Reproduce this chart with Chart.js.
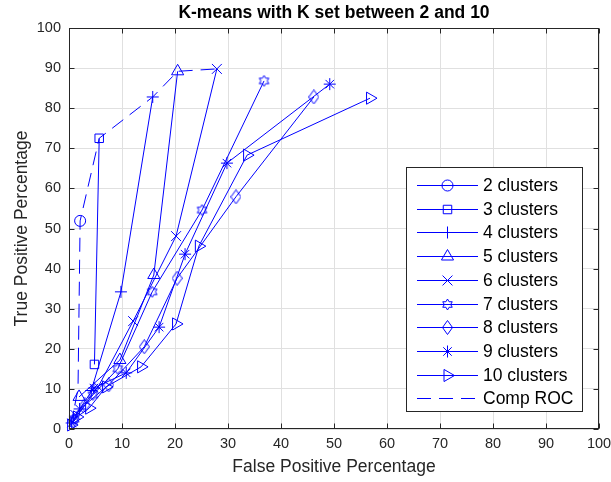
<!DOCTYPE html>
<html>
<head>
<meta charset="utf-8">
<script src="https://cdn.jsdelivr.net/npm/chart.js@4.4.0/dist/chart.umd.min.js"></script>
<style>
html,body{margin:0;padding:0;background:#fff;}
canvas{display:block;}
</style>
</head>
<body>
<canvas id="myChart" width="611" height="482"></canvas>
<script>
// values: false positive % (fp) and true positive % (tp)
var seriesNames = ['2 clusters', '3 clusters', '4 clusters', '5 clusters', '6 clusters',
                   '7 clusters', '8 clusters', '9 clusters', '10 clusters', 'Comp ROC'];

var fp2 = [2.1];
var tp2 = [51.9];
var fp3 = [5.7, 4.8];
var tp3 = [72.5, 16.1];
var fp4 = [15.8, 9.8, 4.2];
var tp4 = [82.8, 34.2, 9.6];
var fp5 = [20.5, 16.0, 9.6, 1.9];
var tp5 = [89.2, 38.4, 17.2, 8.0];
var fp6 = [27.9, 20.2, 12.1, 5.5, 1.2];
var tp6 = [89.8, 48.1, 26.9, 10.5, 3.5];
var fp7 = [36.8, 25.1, 15.7, 9.2, 4.5, 1.0];
var tp7 = [86.8, 54.6, 34.2, 15.0, 8.5, 2.5];
var fp8 = [46.2, 31.5, 20.4, 14.2, 7.5, 3.0, 0.8];
var tp8 = [82.8, 57.9, 37.6, 20.5, 11.0, 6.0, 2.0];
var fp9 = [49.2, 29.8, 21.9, 17.0, 10.8, 4.7, 2.0, 0.5];
var tp9 = [86.0, 66.3, 43.6, 25.4, 14.0, 10.2, 5.0, 1.5];
var fp10 = [56.8, 33.6, 24.5, 20.2, 13.6, 7.0, 3.8, 1.5, 0.4];
var tp10 = [82.5, 68.3, 45.6, 26.2, 15.5, 10.5, 5.2, 3.0, 1.0];
var fpComp = [0.3, 1.7, 2.1, 5.7, 15.8, 20.5, 27.9];
var tpComp = [0.5, 10.0, 51.9, 72.5, 82.8, 89.2, 89.8];

var xTicks = [0, 10, 20, 30, 40, 50, 60, 70, 80, 90, 100];
var yTicks = [0, 10, 20, 30, 40, 50, 60, 70, 80, 90, 100];

var BLUE = '#0000ff';
var AXIS = '#262626';
var FONT = "'Liberation Sans', Arial, Helvetica, sans-serif";

// small canvases for the two matlab markers chart.js doesn't have
function makeMarker(w, h, draw) {
  var c = document.createElement('canvas');
  c.width = w; c.height = h;
  var g = c.getContext('2d');
  g.strokeStyle = BLUE;
  g.lineWidth = 1;
  draw(g, w, h);
  return c;
}
var hexagram = makeMarker(13, 13, function(g, w, h){
  var R = 5.5, r = R / Math.sqrt(3);
  g.beginPath();
  for (var i = 0; i < 12; i++) {
    var a = -Math.PI / 2 + i * Math.PI / 6;
    var rr = (i % 2) ? r : R;
    var px = w / 2 + rr * Math.cos(a), py = h / 2 + rr * Math.sin(a);
    if (i == 0) g.moveTo(px, py); else g.lineTo(px, py);
  }
  g.closePath();
  g.stroke();
});
var diamond = makeMarker(11, 15, function(g, w, h){
  g.beginPath();
  g.moveTo(w / 2, 0.5);
  g.lineTo(w - 0.5, h / 2);
  g.lineTo(w / 2, h - 0.5);
  g.lineTo(0.5, h / 2);
  g.closePath();
  g.stroke();
});

var markers = [
  {style: 'circle', r: 5.5, rot: 0},
  {style: 'rect', r: 6, rot: 0},
  {style: 'cross', r: 6, rot: 0},
  {style: 'triangle', r: 7, rot: 0},
  {style: 'crossRot', r: 7, rot: 0},
  {style: hexagram, r: 6, rot: 0},
  {style: diamond, r: 7, rot: 0},
  {style: 'star', r: 6, rot: 0},
  {style: 'triangle', r: 7, rot: 90},
  {style: false, r: 0, rot: 0}
];
var fpAll = [fp2, fp3, fp4, fp5, fp6, fp7, fp8, fp9, fp10, fpComp];
var tpAll = [tp2, tp3, tp4, tp5, tp6, tp7, tp8, tp9, tp10, tpComp];
var DASH = [14, 8];

function toPoints(xs, ys) {
  return xs.map(function(x, i){ return {x: x, y: ys[i]}; });
}

var datasets = seriesNames.map(function(name, i){
  var m = markers[i];
  return {
    label: name,
    data: toPoints(fpAll[i], tpAll[i]),
    showLine: true,
    borderColor: BLUE,
    borderWidth: 1,
    borderDash: i == 9 ? DASH : [],
    pointStyle: m.style,
    pointRadius: m.r,
    pointRotation: m.rot,
    pointBorderColor: BLUE,
    pointBackgroundColor: 'rgba(0,0,0,0)',
    pointBorderWidth: 1,
    tension: 0,
    clip: false
  };
});

// matlab style box with inward ticks
var boxPlugin = {
  id: 'box',
  afterDatasetsDraw: function(chart) {
    var a = chart.chartArea, ctx = chart.ctx;
    var sx = chart.scales.x, sy = chart.scales.y;
    var L = Math.round(a.left) + 0.5, R = Math.round(a.right) - 0.5;
    var T = Math.round(a.top) + 0.5, B = Math.round(a.bottom) - 0.5;
    ctx.save();
    ctx.strokeStyle = AXIS;
    ctx.lineWidth = 1;
    ctx.strokeRect(L, T, R - L, B - T);
    ctx.beginPath();
    xTicks.forEach(function(v){
      var px = Math.round(sx.getPixelForValue(v)) + 0.5;
      ctx.moveTo(px, B); ctx.lineTo(px, B - 5);
      ctx.moveTo(px, T); ctx.lineTo(px, T + 5);
    });
    yTicks.forEach(function(v){
      var py = Math.round(sy.getPixelForValue(v)) + 0.5;
      ctx.moveTo(L, py); ctx.lineTo(L + 5, py);
      ctx.moveTo(R, py); ctx.lineTo(R - 5, py);
    });
    ctx.stroke();
    ctx.restore();
  }
};

// legend box inside the axes, lower right
var legendPlugin = {
  id: 'innerLegend',
  afterDraw: function(chart) {
    var ctx = chart.ctx;
    var bx = 406.5, by = 167.5, bw = 176, bh = 244;
    ctx.save();
    ctx.fillStyle = '#fff';
    ctx.fillRect(bx, by, bw, bh);
    ctx.strokeStyle = AXIS;
    ctx.lineWidth = 1;
    ctx.strokeRect(bx, by, bw, bh);
    ctx.font = '17.5px ' + FONT;
    ctx.textBaseline = 'middle';
    ctx.textAlign = 'left';
    seriesNames.forEach(function(name, i){
      var y = Math.round(185 + i * 23.7) + 0.5;
      var m = markers[i];
      ctx.strokeStyle = BLUE;
      ctx.lineWidth = 1;
      ctx.setLineDash(i == 9 ? DASH : []);
      ctx.beginPath();
      ctx.moveTo(417, y); ctx.lineTo(478, y);
      ctx.stroke();
      ctx.setLineDash([]);
      if (m.style) {
        ctx.fillStyle = 'rgba(0,0,0,0)';
        Chart.helpers.drawPoint(ctx, {pointStyle: m.style, radius: m.r, rotation: m.rot, borderWidth: 1}, 447.5, y);
      }
      ctx.fillStyle = '#000';
      ctx.fillText(name, 483, y + 1);
    });
    ctx.restore();
  }
};

var ctx = document.getElementById('myChart').getContext('2d');
var chart = new Chart(ctx, {
  type: 'scatter',
  data: {datasets: datasets},
  options: {
    responsive: false,
    animation: false,
    devicePixelRatio: 1,
    layout: {padding: {left: 0, right: 12, top: 0, bottom: 0}},
    plugins: {
      legend: {display: false},
      tooltip: {enabled: false},
      title: {
        display: true,
        fullSize: false,
        text: 'K-means with K set between 2 and 10',
        color: '#000',
        font: {family: FONT, size: 17.5, weight: 'bold'},
        padding: {top: 3, bottom: 4}
      }
    },
    scales: {
      x: {
        type: 'linear', min: 0, max: 100,
        afterBuildTicks: function(s){ s.ticks = xTicks.map(function(v){ return {value: v}; }); },
        afterFit: function(s){ s.height = 53; s.paddingLeft = 0; s.paddingRight = 0; },
        grid: {color: '#e0e0e0', drawTicks: false},
        border: {display: false},
        ticks: {padding: 6, color: AXIS, font: {family: FONT, size: 14.5}, maxRotation: 0},
        title: {display: true, text: 'False Positive Percentage', color: AXIS,
                font: {family: FONT, size: 17.5}, padding: {top: 0, bottom: 4}}
      },
      y: {
        type: 'linear', min: 0, max: 100,
        afterBuildTicks: function(s){ s.ticks = yTicks.map(function(v){ return {value: v}; }); },
        afterFit: function(s){ s.width = 69; s.paddingTop = 0; s.paddingBottom = 0; },
        grid: {color: '#e0e0e0', drawTicks: false},
        border: {display: false},
        ticks: {padding: 8, color: AXIS, font: {family: FONT, size: 14.5}},
        title: {display: true, text: 'True Positive Percentage', color: AXIS,
                font: {family: FONT, size: 17.5}, padding: {top: 12, bottom: 0}}
      }
    }
  },
  plugins: [boxPlugin, legendPlugin]
});
</script>
</body>
</html>
